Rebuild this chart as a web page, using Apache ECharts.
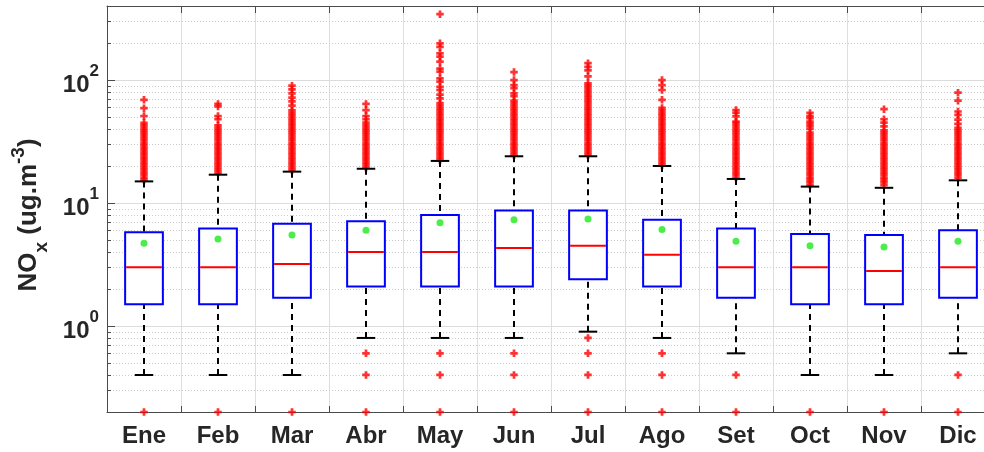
<!DOCTYPE html>
<html>
<head>
<meta charset="utf-8">
<script src="https://cdn.jsdelivr.net/npm/echarts@6/dist/echarts.min.js"></script>
<style>
  html, body { margin: 0; padding: 0; background: #fff; }
  #chart { width: 984px; height: 452px; }
</style>
</head>
<body>
<div id="chart"></div>
<script>
// Monthly NOx distributions (ug.m-3), log scale
const months = ['Ene', 'Feb', 'Mar', 'Abr', 'May', 'Jun', 'Jul', 'Ago', 'Set', 'Oct', 'Nov', 'Dic'];

const whiskerLow  = [0.4, 0.4, 0.4, 0.8, 0.8, 0.8, 0.9, 0.8, 0.6, 0.4, 0.4, 0.6];
const q1          = [1.5, 1.5, 1.7, 2.1, 2.1, 2.1, 2.4, 2.1, 1.7, 1.5, 1.5, 1.7];
const median      = [3.0, 3.0, 3.2, 4.0, 4.0, 4.3, 4.5, 3.8, 3.0, 3.0, 2.8, 3.0];
const q3          = [5.8, 6.2, 6.8, 7.1, 8.0, 8.7, 8.7, 7.3, 6.2, 5.6, 5.5, 6.0];
const whiskerHigh = [15, 17, 18, 19, 22, 24, 24, 20, 15.7, 13.6, 13.3, 15.3];
const means       = [4.7, 5.1, 5.5, 6.0, 6.9, 7.3, 7.4, 6.1, 4.9, 4.5, 4.4, 4.9];

// Outliers per month: dense high tail, sparse extremes, then low values
const outliers = [
  [15.4, 16.1, 16.9, 17.7, 18.5, 19.4, 20.3, 21.3, 22.3, 23.4, 24.5, 25.7, 26.9, 28.2, 29.5, 30.9, 32.4, 34, 35.6, 37.3, 39, 40.9, 42.8, 44.9,
   51, 59, 69,
   0.2],
  [17.7, 18.5, 19.4, 20.3, 21.3, 22.3, 23.4, 24.5, 25.7, 26.9, 28.2, 29.5, 30.9, 32.4, 34, 35.6, 37.3, 39, 40.9, 42.8,
   48, 51, 61, 64,
   0.2],
  [18.5, 19.4, 20.3, 21.3, 22.3, 23.4, 24.5, 25.7, 26.9, 28.2, 29.5, 30.9, 32.4, 34, 35.6, 37.3, 39, 40.9, 42.8, 44.9, 47, 49.2, 51.6, 54, 56.6,
   62, 67, 72, 78, 84, 90,
   0.2],
  [19.4, 20.3, 21.3, 22.3, 23.4, 24.5, 25.7, 26.9, 28.2, 29.5, 30.9, 32.4, 34, 35.6, 37.3, 39, 40.9, 42.8,
   45, 48, 51, 57, 64,
   0.6, 0.4, 0.2],
  [22.3, 23.4, 24.5, 25.7, 26.9, 28.2, 29.5, 30.9, 32.4, 34, 35.6, 37.3, 39, 40.9, 42.8, 44.9, 47, 49.2, 51.6, 54, 56.6, 59.3, 62.1, 65,
   71, 76, 83, 88, 97, 103, 117, 124, 141, 155, 165, 186, 199, 343,
   0.6, 0.4, 0.2],
  [24.5, 25.7, 26.9, 28.2, 29.5, 30.9, 32.4, 34, 35.6, 37.3, 39, 40.9, 42.8, 44.9, 47, 49.2, 51.6, 54, 56.6, 59.3, 62.1, 65, 68.1,
   74, 78, 86, 91, 100, 116,
   0.6, 0.4, 0.2],
  [24.5, 25.7, 26.9, 28.2, 29.5, 30.9, 32.4, 34, 35.6, 37.3, 39, 40.9, 42.8, 44.9, 47, 49.2, 51.6, 54, 56.6, 59.3, 62.1, 65, 68.1, 71.4, 74.8, 78.3, 82, 86, 90,
   94, 107, 120, 128, 137,
   0.8, 0.6, 0.4, 0.2],
  [20.3, 21.3, 22.3, 23.4, 24.5, 25.7, 26.9, 28.2, 29.5, 30.9, 32.4, 34, 35.6, 37.3, 39, 40.9, 42.8, 44.9, 47, 49.2, 51.6, 54, 56.6, 59.3,
   69, 83, 91, 100,
   0.6, 0.4, 0.2],
  [16.1, 16.9, 17.7, 18.5, 19.4, 20.3, 21.3, 22.3, 23.4, 24.5, 25.7, 26.9, 28.2, 29.5, 30.9, 32.4, 34, 35.6, 37.3, 39, 40.9, 42.8, 44.9,
   46, 50.6, 54, 57,
   0.4, 0.2],
  [14, 14.7, 15.4, 16.1, 16.9, 17.7, 18.5, 19.4, 20.3, 21.3, 22.3, 23.4, 24.5, 25.7, 26.9, 28.2, 29.5, 30.9, 32.4, 34, 35.6, 37.3,
   40, 42, 44, 46, 49, 51, 54,
   0.2],
  [14, 14.7, 15.4, 16.1, 16.9, 17.7, 18.5, 19.4, 20.3, 21.3, 22.3, 23.4, 24.5, 25.7, 26.9, 28.2, 29.5, 30.9, 32.4, 34, 35.6, 37.3, 39,
   42, 45, 48, 58,
   0.2],
  [16.1, 16.9, 17.7, 18.5, 19.4, 20.3, 21.3, 22.3, 23.4, 24.5, 25.7, 26.9, 28.2, 29.5, 30.9, 32.4, 34, 35.6, 37.3, 39, 40.9,
   44, 47.6, 52, 55.5, 68, 79,
   0.4, 0.2]
];

// Minor ticks of the log axis (2..9 within each decade)
const minorTicks = [0.3, 0.4, 0.5, 0.6, 0.7, 0.8, 0.9,
                    2, 3, 4, 5, 6, 7, 8, 9,
                    20, 30, 40, 50, 60, 70, 80, 90,
                    200, 300];

const FONT = "'Liberation Sans', Arial, Helvetica, sans-serif";
const TEXT = '#262626';
const AXIS = '#4a4a4a';
const PLUS = 'path://M2.55,0H5.45V2.55H8V5.45H5.45V8H2.55V5.45H0V2.55H2.55Z';

const boxData = months.map((m, i) => [i, whiskerLow[i], q1[i], median[i], q3[i], whiskerHigh[i]]);
const meanData = months.map((m, i) => [i, means[i]]);
const outlierData = [];
outliers.forEach((list, i) => list.forEach(v => outlierData.push([i, v])));
const minorData = minorTicks.map(v => [0, v]);

function renderMinor(params, api) {
  const cs = params.coordSys;
  const y = Math.round(api.coord([0, api.value(1)])[1]) + 0.5;
  return {
    type: 'group',
    children: [
      { type: 'line', shape: { x1: cs.x, y1: y, x2: cs.x + cs.width, y2: y },
        style: { stroke: '#cccccc', lineWidth: 1, lineDash: [1, 2] } },
      { type: 'line', shape: { x1: cs.x, y1: y, x2: cs.x + 4, y2: y },
        style: { stroke: AXIS, lineWidth: 1 } }
    ]
  };
}

function renderBox(params, api) {
  const cs = params.coordSys;
  const band = cs.width / months.length;
  const i = api.value(0);
  const x = Math.round(api.coord([i, api.value(3)])[0]);
  const yLow = api.coord([i, api.value(1)])[1];
  const yQ1 = api.coord([i, api.value(2)])[1];
  const yMed = api.coord([i, api.value(3)])[1];
  const yQ3 = api.coord([i, api.value(4)])[1];
  const yHigh = api.coord([i, api.value(5)])[1];
  const bw = band * 0.51;
  const cw = band * 0.25;
  const dash = { stroke: '#000', lineWidth: 2, lineDash: [6, 5] };
  const solid = { stroke: '#000', lineWidth: 2 };
  return {
    type: 'group',
    children: [
      { type: 'line', shape: { x1: x, y1: yHigh, x2: x, y2: yQ3 }, style: dash },
      { type: 'line', shape: { x1: x, y1: yLow, x2: x, y2: yQ1 }, style: dash },
      { type: 'line', shape: { x1: x - cw / 2, y1: yHigh, x2: x + cw / 2, y2: yHigh }, style: solid },
      { type: 'line', shape: { x1: x - cw / 2, y1: yLow, x2: x + cw / 2, y2: yLow }, style: solid },
      { type: 'rect', shape: { x: x - bw / 2, y: yQ3, width: bw, height: yQ1 - yQ3 },
        style: { fill: '#fff', stroke: '#0000ff', lineWidth: 2 } },
      { type: 'line', shape: { x1: x - bw / 2 + 1, y1: yMed, x2: x + bw / 2 - 1, y2: yMed },
        style: { stroke: '#ff0000', lineWidth: 2 } }
    ]
  };
}

function decadeLabel(v) {
  const e = Math.log10(v);
  const r = Math.round(e);
  if (Math.abs(e - r) > 1e-6) return '';
  return '{b|10}{s|' + r + '}';
}

const chart = echarts.init(document.getElementById('chart'), null, { renderer: 'canvas' });
chart.setOption({
  animation: false,
  backgroundColor: '#fff',
  textStyle: { fontFamily: FONT },
  grid: { left: 107, top: 6, right: -11, bottom: 40, containLabel: false, outerBoundsMode: 'none' },
  xAxis: [
    {
      type: 'category',
      data: months,
      position: 'bottom',
      boundaryGap: true,
      axisLine: { show: true, lineStyle: { color: AXIS, width: 1 } },
      axisTick: { show: true, inside: true, length: 6, alignWithLabel: false, lineStyle: { color: AXIS } },
      axisLabel: { color: TEXT, fontSize: 24, fontWeight: 'bold', fontFamily: FONT, margin: 12 },
      splitLine: { show: true, lineStyle: { color: '#dedede', width: 1 } }
    },
    {
      type: 'category',
      data: months,
      position: 'top',
      boundaryGap: true,
      axisLine: { show: true, lineStyle: { color: AXIS, width: 1 } },
      axisTick: { show: true, inside: true, length: 7, lineStyle: { color: AXIS } },
      axisLabel: { show: false },
      splitLine: { show: false }
    }
  ],
  yAxis: {
    type: 'log',
    logBase: 10,
    min: 0.2,
    max: 400,
    axisLine: { show: true, lineStyle: { color: AXIS, width: 1 } },
    axisTick: { show: true, inside: true, length: 8, lineStyle: { color: AXIS } },
    splitLine: { show: true, lineStyle: { color: '#dcdcdc', width: 1 } },
    minorTick: { show: false },
    minorSplitLine: { show: false },
    axisLabel: {
      formatter: decadeLabel,
      margin: 8,
      rich: {
        b: { fontSize: 24, fontWeight: 'bold', color: TEXT, fontFamily: FONT, padding: [11, 0, 0, 0] },
        s: { fontSize: 17, fontWeight: 'bold', color: TEXT, fontFamily: FONT, verticalAlign: 'top' }
      }
    },
    name: '{m|NO}{sub|x}{m| (ug.m}{sup|-3}{m|)}',
    nameLocation: 'middle',
    nameRotate: 90,
    nameGap: 56,
    nameTextStyle: {
      padding: [0, 12, 0, 0],
      rich: {
        m: { fontSize: 26, lineHeight: 44, fontWeight: 'bold', color: TEXT, fontFamily: FONT },
        sub: { fontSize: 19, fontWeight: 'bold', color: TEXT, fontFamily: FONT, verticalAlign: 'bottom' },
        sup: { fontSize: 19, fontWeight: 'bold', color: TEXT, fontFamily: FONT, verticalAlign: 'top', padding: [2, 0, 0, 0] }
      }
    }
  },
  series: [
    {
      name: 'minor',
      type: 'custom',
      renderItem: renderMinor,
      data: minorData,
      encode: { x: 0, y: 1 },
      silent: true,
      clip: false,
      z: 1
    },
    {
      name: 'outliers',
      type: 'scatter',
      data: outlierData,
      symbol: PLUS,
      symbolSize: 7.5,
      itemStyle: { color: '#ff0000' },
      clip: false,
      silent: true,
      z: 3
    },
    {
      name: 'boxes',
      type: 'custom',
      renderItem: renderBox,
      data: boxData,
      encode: { x: 0, y: [1, 2, 3, 4, 5] },
      silent: true,
      clip: false,
      z: 4
    },
    {
      name: 'mean',
      type: 'scatter',
      data: meanData,
      symbol: 'circle',
      symbolSize: 7,
      itemStyle: { color: '#1ee81e' },
      silent: true,
      z: 5
    }
  ]
});
</script>
</body>
</html>
